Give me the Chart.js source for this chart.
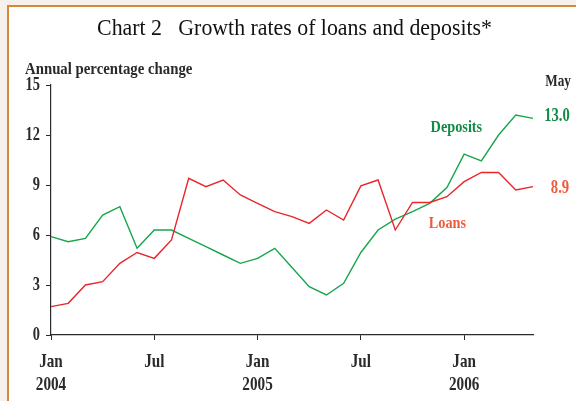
<!DOCTYPE html>
<html>
<head>
<meta charset="utf-8">
<script src="https://cdn.jsdelivr.net/npm/chart.js@4"></script>
<style>
  html, body { margin: 0; padding: 0; }
  body { width: 576px; height: 401px; background: #f6f1ea; position: relative; overflow: hidden; }
  #frame { position: absolute; left: 7px; top: 5px; width: 600px; height: 420px; background: #fff; border: 2px solid #d6873c; box-sizing: border-box; }
  #wrap { position: absolute; left: 0; top: 0; width: 576px; height: 401px; }
</style>
</head>
<body>
<div id="frame"></div>
<div id="wrap"><canvas id="growthChart" width="576" height="401"></canvas></div>
<script>
const months = [
    'Jan 2004', 'Feb 2004', 'Mar 2004', 'Apr 2004', 'May 2004', 'Jun 2004',
    'Jul 2004', 'Aug 2004', 'Sep 2004', 'Oct 2004', 'Nov 2004', 'Dec 2004',
    'Jan 2005', 'Feb 2005', 'Mar 2005', 'Apr 2005', 'May 2005', 'Jun 2005',
    'Jul 2005', 'Aug 2005', 'Sep 2005', 'Oct 2005', 'Nov 2005', 'Dec 2005',
    'Jan 2006', 'Feb 2006', 'Mar 2006', 'Apr 2006', 'May 2006'
];
const loans = [1.7, 1.9, 3.0, 3.2, 4.3, 4.95, 4.6, 5.7, 9.4, 8.9, 9.3, 8.4,
               7.9, 7.4, 7.1, 6.7, 7.5, 6.9, 8.95, 9.3, 6.3, 7.95, 7.95, 8.3,
               9.2, 9.75, 9.75, 8.7, 8.9];
const deposits = [5.9, 5.6, 5.8, 7.2, 7.7, 5.2, 6.3, 6.3, 5.8, 5.3, 4.8, 4.3,
                  4.6, 5.2, 4.05, 2.9, 2.4, 3.1, 4.95, 6.3, 6.95, 7.4, 7.9, 8.85,
                  10.85, 10.45, 12.0, 13.2, 13.0];
const yTicks = [0, 3, 6, 9, 12, 15];
const xTickMonths = ['Jan', 'Jul'];

const serif = '"Liberation Serif", "Times New Roman", serif';
const ink = '#2a2a2a';
const greenLine = '#17a64a';
const redLine = '#e8262c';
const greenText = '#138a45';
const redText = '#ee5b3b';

// the source uses a narrow Times face, so text is squeezed horizontally
function drawText(ctx, str, x, y, size, opts = {}) {
    const { bold = true, color = ink, align = 'center', sx = 0.8 } = opts;
    ctx.save();
    ctx.font = `${bold ? 'bold ' : ''}${size}px ${serif}`;
    ctx.fillStyle = color;
    ctx.textAlign = align;
    ctx.textBaseline = 'middle';
    ctx.translate(x, y);
    ctx.scale(sx, 1);
    ctx.fillText(str, 0, 0);
    ctx.restore();
}

const isTickMonth = i => xTickMonths.includes(months[i].slice(0, 3));

const annotations = {
    id: 'annotations',
    afterDraw(chart) {
        const { ctx, scales: { x, y } } = chart;
        const last = months.length - 1;

        drawText(ctx, 'Chart 2\u2002 Growth rates of loans and deposits*', 294.5, 29, 24,
                 { bold: false, color: '#111', sx: 0.91 });
        drawText(ctx, 'Annual percentage change', 25, 70, 17, { align: 'left', sx: 0.87 });

        // axis labels
        yTicks.forEach(v => {
            drawText(ctx, String(v), 40, y.getPixelForValue(v), 18, { align: 'right', sx: 0.8 });
        });
        months.forEach((m, i) => {
            if (!isTickMonth(i)) return;
            const [mon, yr] = m.split(' ');
            const px = x.getPixelForValue(i);
            drawText(ctx, mon, px, 362, 19, { sx: 0.8 });
            if (mon === 'Jan') drawText(ctx, yr, px, 385, 19, { sx: 0.8 });
        });

        // end-of-series values
        const tagX = x.getPixelForValue(last) + 25;
        drawText(ctx, 'May', tagX, y.getPixelForValue(15.2), 16.5, { sx: 0.8 });
        drawText(ctx, deposits[last].toFixed(1), tagX - 1, y.getPixelForValue(deposits[last]) - 2.5, 19,
                 { color: greenText, sx: 0.77 });
        drawText(ctx, loans[last].toFixed(1), tagX + 2, y.getPixelForValue(loans[last]) + 1, 19,
                 { color: redText, sx: 0.77 });

        // series names
        drawText(ctx, 'Deposits', x.getPixelForValue(23.55), y.getPixelForValue(12.42), 17,
                 { color: greenText, sx: 0.84 });
        drawText(ctx, 'Loans', x.getPixelForValue(23.03), y.getPixelForValue(6.67), 17,
                 { color: redText, sx: 0.84 });
    }
};

new Chart(document.getElementById('growthChart'), {
    type: 'line',
    data: {
        labels: months,
        datasets: [{
            label: 'Loans',
            data: loans,
            borderColor: redLine,
            borderWidth: 1.4,
            pointRadius: 0,
            tension: 0
        }, {
            label: 'Deposits',
            data: deposits,
            borderColor: greenLine,
            borderWidth: 1.4,
            pointRadius: 0,
            tension: 0
        }]
    },
    options: {
        responsive: false,
        animation: false,
        layout: { padding: { top: 85, right: 43, left: 0, bottom: 0 } },
        plugins: {
            legend: { display: false },
            tooltip: { enabled: false }
        },
        scales: {
            x: {
                offset: false,
                afterFit: scale => { scale.height = 66; },
                grid: {
                    drawOnChartArea: false,
                    tickLength: 5,
                    color: ctx => isTickMonth(ctx.index) ? ink : 'rgba(0,0,0,0)'
                },
                border: { color: ink, width: 1.2 },
                ticks: { display: false, autoSkip: false, maxRotation: 0 }
            },
            y: {
                min: 0,
                max: 15,
                afterFit: scale => { scale.width = 51; },
                afterBuildTicks: scale => { scale.ticks = yTicks.map(v => ({ value: v })); },
                grid: { drawOnChartArea: false, tickLength: 5, color: ink },
                border: { color: ink, width: 1.2 },
                ticks: { display: false }
            }
        }
    },
    plugins: [annotations]
});
</script>
</body>
</html>
